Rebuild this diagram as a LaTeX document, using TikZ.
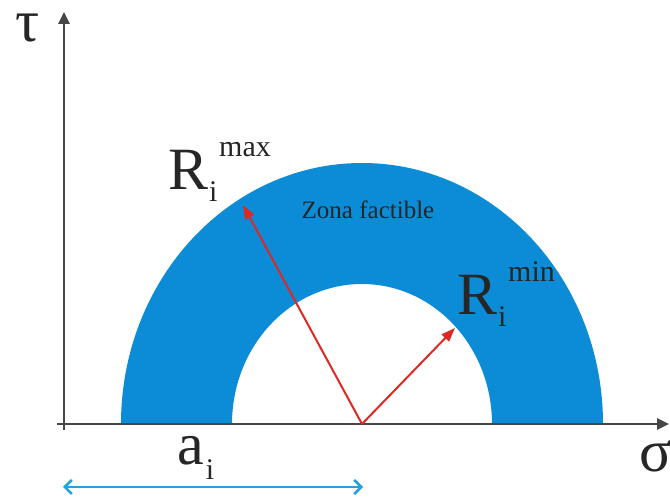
\documentclass[tikz,border=0pt]{standalone}
\usepackage{fontspec}
\setmainfont{Liberation Serif}
\usepackage{xcolor}
\usetikzlibrary{arrows.meta}
\definecolor{zonablue}{RGB}{12,140,214}
\definecolor{redline}{RGB}{222,40,36}
\definecolor{dimblue}{RGB}{38,160,222}
\definecolor{axisgray}{RGB}{70,70,70}
\newcommand{\bigfont}{\fontsize{60}{60}\selectfont}
\newcommand{\idxfont}{\fontsize{30}{30}\selectfont}
\newcommand{\Rlabel}[1]{R\hspace{1pt}\rlap{\raisebox{-12pt}{\idxfont i}}\hspace{10pt}\raisebox{33pt}{\idxfont #1}}

\begin{document}
\begin{tikzpicture}[x=1pt,y=1pt,
  axis/.style={draw=axisgray,line width=2.6pt,-{Triangle[length=12pt,width=11pt]}},
  radarrow/.style={draw=redline,line width=2pt,-{Triangle[length=14pt,width=10pt]}},
  dim/.style={draw=dimblue,line width=2.6pt,{Straight Barb[length=7pt,width=14pt]}-{Straight Barb[length=7pt,width=14pt]}},
  lbl/.style={inner sep=0pt,anchor=base west,text=black!85,font=\bigfont}]
  \useasboundingbox (0,0) rectangle (670,501);

  % feasible zone: upper half of the ring between R_i^min and R_i^max
  \fill[zonablue] (121,77) arc[start angle=180,end angle=0,x radius=241,y radius=261]
    -- (492,77) arc[start angle=0,end angle=180,x radius=130,y radius=140] -- cycle;

  % axes
  \coordinate (xs) at (57,77);
  \coordinate (xe) at (669,77);
  \coordinate (ys) at (64,71);
  \coordinate (ye) at (64,489);
  \draw[axis] (xs) -- (xe);
  \draw[axis] (ys) -- (ye);

  % radii from the centre of the ring
  \coordinate (C) at (362,77);
  \coordinate (Pmax) at (243,296);
  \coordinate (Pmin) at (455,173);
  \draw[radarrow] (C) -- (Pmax);
  \draw[radarrow] (C) -- (Pmin);

  % distance a_i
  \coordinate (aL) at (63,14);
  \coordinate (aR) at (363,14);
  \draw[dim] (aL) -- (aR);

  % labels
  \node[lbl] (tau) at (15,459) {τ};
  \node[lbl] (sigma) at (639,29) {σ};
  \node[lbl] (rmax) at (168,311) {\Rlabel{max}};
  \node[lbl] (rmin) at (457,186) {\Rlabel{min}};
  \node[lbl] (ai) at (177,36) {a\hspace{2pt}\raisebox{-15pt}{\idxfont i}};
  \node[lbl,font=\fontsize{25}{25}\selectfont,anchor=base] (zona) at (368,282) {Zona factible};
\end{tikzpicture}
\end{document}
